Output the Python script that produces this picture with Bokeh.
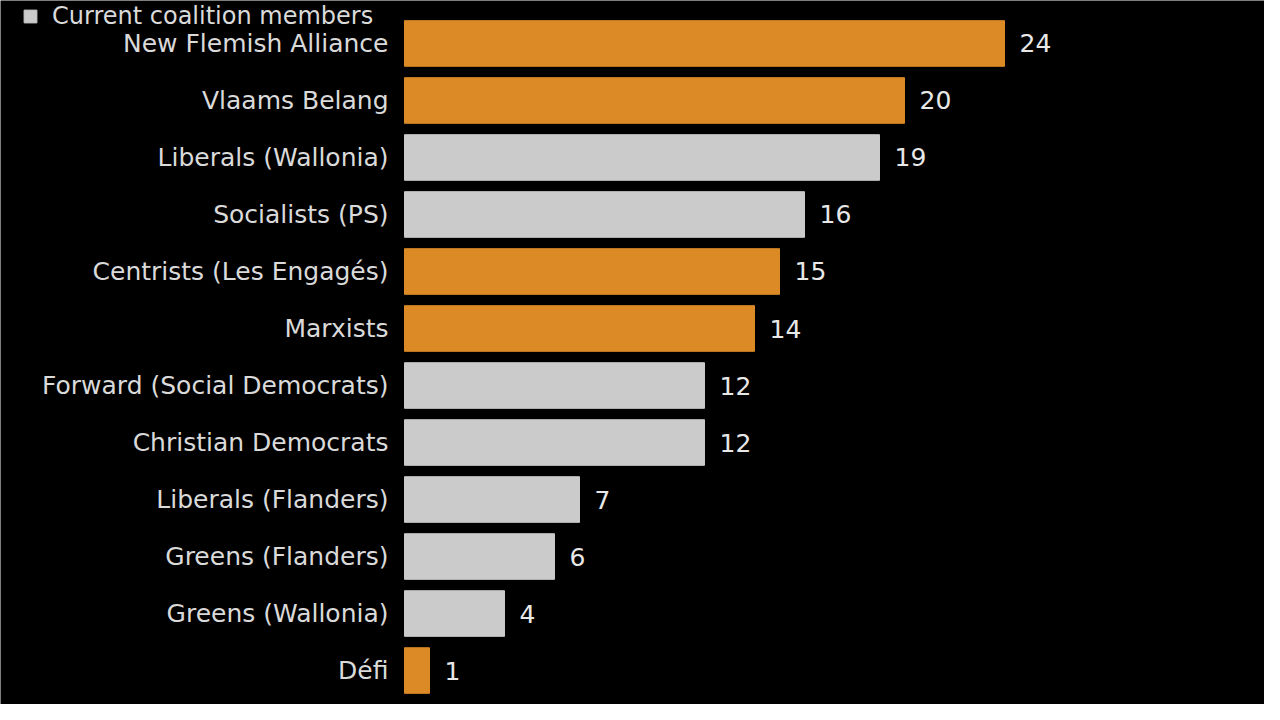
from bokeh.plotting import figure
from bokeh.models import Range1d, ColumnDataSource, Legend, LegendItem
from bokeh.core.properties import value
from bokeh.embed import file_html
from bokeh.resources import INLINE

parties = ["New Flemish Alliance", "Vlaams Belang", "Liberals (Wallonia)", "Socialists (PS)",
           "Centrists (Les Engagés)", "Marxists", "Forward (Social Democrats)", "Christian Democrats",
           "Liberals (Flanders)", "Greens (Flanders)", "Greens (Wallonia)", "Défi"]
seats = [24, 20, 19, 16, 15, 14, 12, 12, 7, 6, 4, 1]
current_coalition = [False, False, True, True, False, False, True, True, True, True, True, False]
legend_label = "Current coalition members"

ORANGE = "#dc8a26"
GRAY = "#cbcbcb"
FONT = "DejaVu Sans"
FS = "25px"

idx = list(range(len(parties)))
colors = [GRAY if c else ORANGE for c in current_coalition]
src = ColumnDataSource(dict(y=idx, seats=seats, color=colors, party=parties,
                            zero=[0] * len(seats), lbl=[str(s) for s in seats]))

p = figure(width=1264, height=704, output_backend="svg", toolbar_location=None,
           x_range=Range1d(-16.16, 34.4), y_range=Range1d(11.596, -0.754),
           min_border_left=0, min_border_right=0, min_border_top=0, min_border_bottom=0,
           background_fill_color="black", border_fill_color="black", outline_line_color=None)

bars = p.hbar(y="y", right="seats", left=0, height=0.8, color="color", source=src)
p.text(x="seats", y="y", text="lbl", x_offset=15, text_baseline="middle", text_align="left",
       text_color="#e8e8e8", text_font=value(FONT), text_font_size=FS, source=src)
p.text(x="zero", y="y", text="party", x_offset=-16, text_baseline="middle", text_align="right",
       text_color="#dadada", text_font=value(FONT), text_font_size=FS, source=src)

p.xaxis.visible = False
p.yaxis.visible = False
p.xgrid.visible = False
p.ygrid.visible = False

legend = Legend(items=[LegendItem(label=legend_label, renderers=[bars], index=2)],
                location=(22, 674), orientation="horizontal",
                background_fill_alpha=0, border_line_color=None,
                padding=0, margin=0, glyph_width=16, glyph_height=16, spacing=8,
                label_standoff=14,
                label_text_color="#dadada", label_text_font=FONT, label_text_font_size="24px",
                label_height=26)
p.add_layout(legend)

html = file_html(p, INLINE)
html = html.replace("<body>", '<body style="background:#000">', 1)
open("out.html", "w").write(html)
